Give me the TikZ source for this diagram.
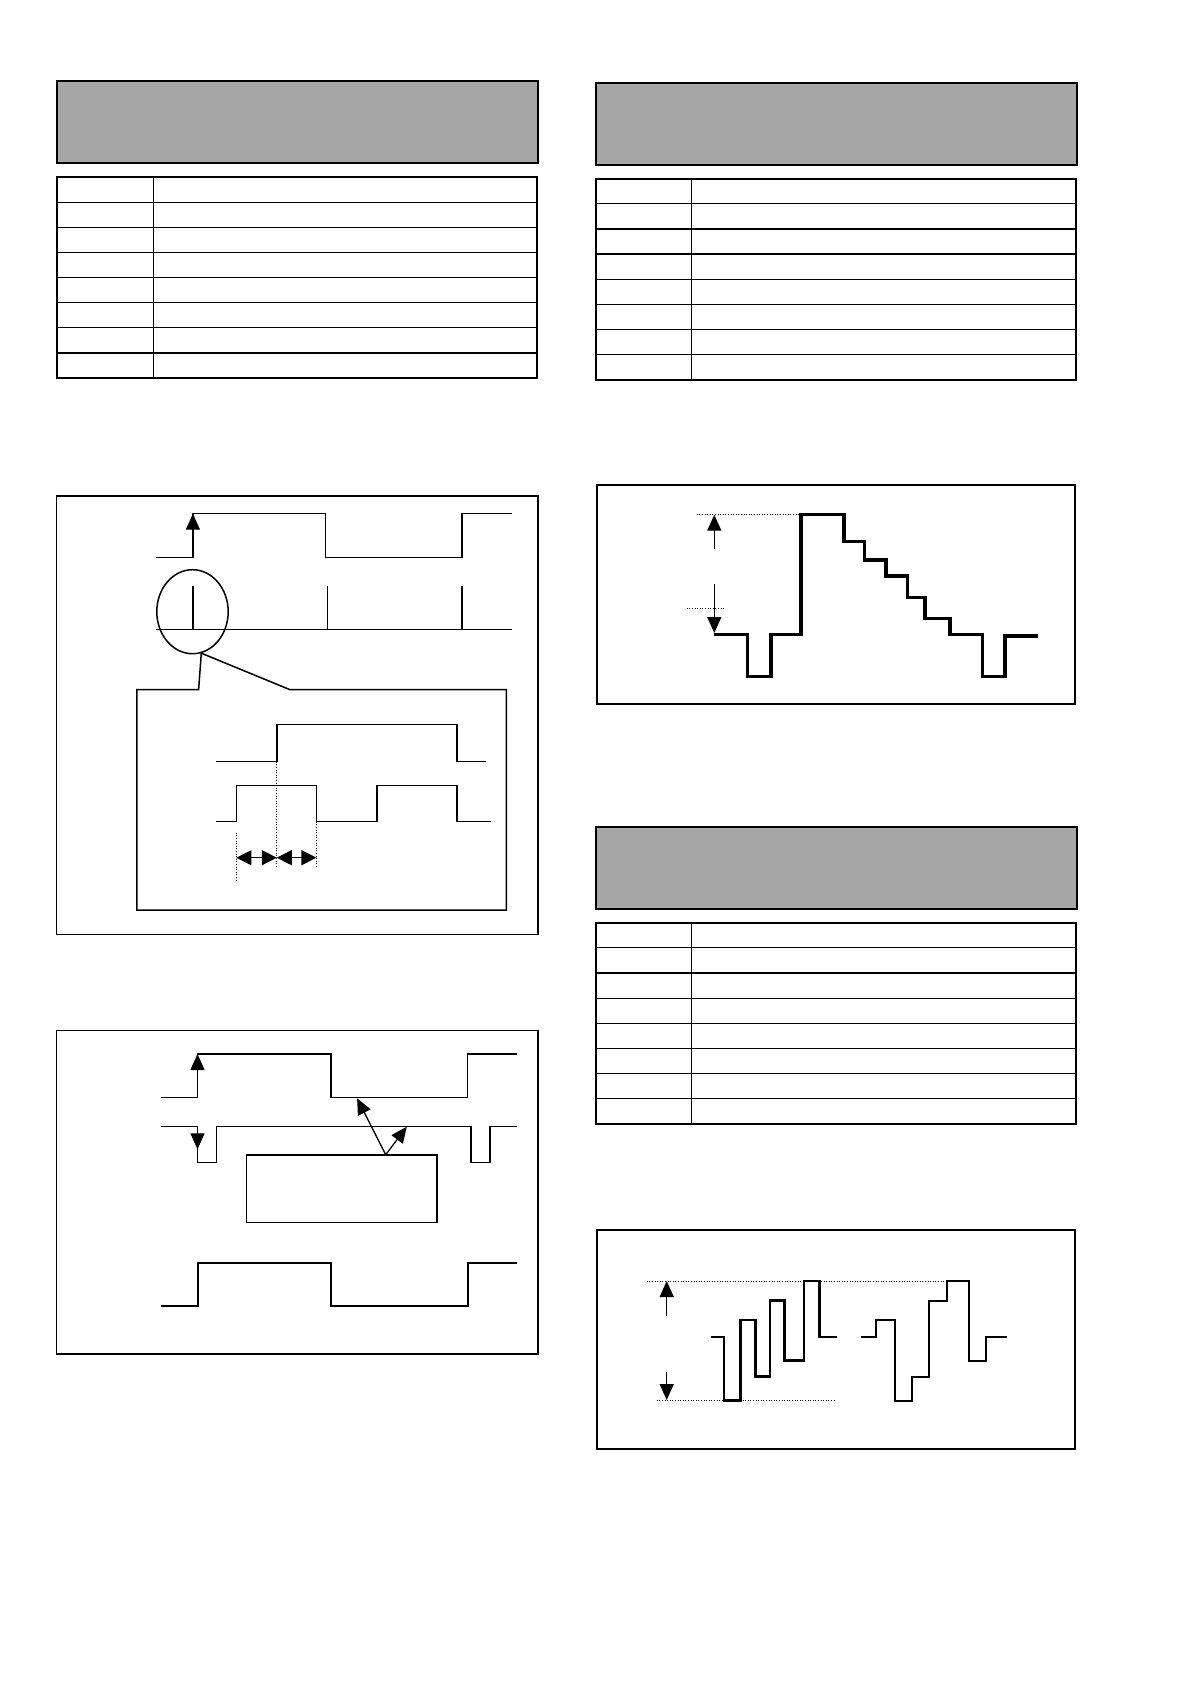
\documentclass[tikz,border=0pt]{standalone}
\usepackage{tikz}
\usetikzlibrary{arrows.meta,shapes.geometric}
\definecolor{hdrgray}{RGB}{166,166,166}

\begin{document}
\begin{tikzpicture}[x=1pt, y=-1pt,
	hdr/.style={fill=hdrgray, draw, line width=2.2pt},
	tbl/.style={draw, line width=2.2pt},
	rule/.style={line width=1.2pt},
	frame/.style={draw, line width=1.6pt},
	wave/.style={line width=1.5pt},
	thickwave/.style={line width=3.2pt},
	dots/.style={line width=0.9pt, dash pattern=on 1pt off 1.6pt},
	head/.style={line width=1.3pt, -{Triangle[length=16pt, width=14pt]}},
	twin/.style={line width=1.3pt, {Triangle[length=15pt, width=15pt]}-{Triangle[length=15pt, width=15pt]}}]
	\useasboundingbox (0,0) rectangle (1190,1684);
	% header bars and signal tables
	\foreach \sx/\sy/\w/\c in {56.8/81/481.4/96.4, 595.7/82.7/481/95.6, 595.7/826.7/481/95.6} {
		\begin{scope}[shift={(\sx,\sy)}]
			\draw[hdr] (0,0) rectangle (\w,82);
			\foreach \k in {1,...,7} \draw[rule] (0,96+25.13*\k) -- (\w-1,96+25.13*\k);
			\draw[rule] (\c,96) -- (\c,297);
			\draw[tbl] (0,96) rectangle (\w-1,297);
		\end{scope}
	}
	% edge timing with zoomed detail
	\draw[frame] (56.4,496) rectangle (538.2,934.3);
	\draw[wave] (156.1,557.3) -- (192.9,557.3) -- (192.9,513.7) -- (325.7,513.7) -- (325.7,557.3) -- (462.1,557.3) -- (462.1,513.7) -- (512.1,513.7);
	\draw[head] (192.9,545) -- (192.9,513.7);
	\draw[wave] (156.1,629.7) -- (512.1,629.7);
	\foreach \t in {192.9,327.5,462.1} \draw[wave] (\t,585.7) -- (\t,629.7);
	\node[ellipse, draw, line width=1.5pt, minimum width=71.4pt, minimum height=84pt, inner sep=0pt] (ring) at (192.5,611.7) {};
	\draw[wave] (ring.-78) -- (198.6,689.7) -- (136.8,689.7) -- (136.8,910) -- (506.4,910) -- (506.4,689.7) -- (290,689.7) -- cycle;
	\draw[wave] (216.1,761.7) -- (276.8,761.7) -- (276.8,724.7) -- (456.8,724.7) -- (456.8,761.7) -- (486.4,761.7);
	\draw[wave] (216.1,821.7) -- (236.4,821.7) -- (236.4,785.3) -- (316.4,785.3) -- (316.4,821.7) -- (376.8,821.7) -- (376.8,785.3) -- (456.8,785.3) -- (456.8,821.7) -- (490.7,821.7);
	\coordinate (t0) at (236.4,857.7); \coordinate (t1) at (276.8,857.7); \coordinate (t2) at (316.4,857.7);
	\draw[dots] (236.4,832.7) -- (236.4,880); \draw[dots] (276.8,761.7) -- (276.8,868.3); \draw[dots] (316.4,821.7) -- (316.4,868.3);
	\draw[twin] (t0) -- (t1); \draw[twin] (t1) -- (t2);
	% staircase
	\draw[frame, line width=2.2pt] (596.7,485.3) rectangle (1075,704.3);
	\draw[dots] (696.7,514.7) -- (801,514.7); \draw[dots] (686.7,608) -- (724,608);
	\draw[thickwave] (714.3,634.7) -- (747.7,634.7) -- (747.7,676.7) -- (771,676.7) -- (771,634.7) -- (801,634.7) -- (801,514.7) -- (844,514.7) -- (844,541.7) -- (864.7,541.7) -- (864.7,560) -- (886,560) -- (886,576) -- (907.7,576) -- (907.7,597.3) -- (925,597.3) -- (925,618.7) -- (950,618.7) -- (950,634.7) -- (982.3,634.7) -- (982.3,676.7) -- (1005,676.7) -- (1005,636) -- (1037.7,636);
	\draw[head] (714.3,549) -- (714.3,514.7); \draw[head] (714.3,584) -- (714.3,633);
	% gated pulses
	\draw[frame] (56.4,1030.3) rectangle (538.2,1354);
	\draw[wave] (161.4,1097.3) -- (197.5,1097.3) -- (197.5,1054) -- (331.1,1054) -- (331.1,1097.3) -- (467.5,1097.3) -- (467.5,1054) -- (517.1,1054);
	\draw[head] (197.5,1080) -- (197.5,1054);
	\draw[wave] (161.4,1126.3) -- (197.5,1126.3) -- (197.5,1162.3) -- (216.4,1162.3) -- (216.4,1126.3) -- (471.1,1126.3) -- (471.1,1162.3) -- (490,1162.3) -- (490,1126.3) -- (517.1,1126.3);
	\draw[head] (197.5,1126.3) -- (197.5,1149.3);
	\node[draw, line width=1.6pt, minimum width=190.7pt, minimum height=67.6pt, inner sep=0pt] (box) at (341.8,1188.5) {};
	\coordinate (fork) at (385.7,1154.7);
	\draw[head] (fork) -- (357.1,1098.3); \draw[head] (fork) -- (406.8,1126.7);
	\draw[wave, line width=2pt] (161.4,1306) -- (197.5,1306) -- (197.5,1263) -- (331.1,1263) -- (331.1,1306) -- (467.5,1306) -- (467.5,1263) -- (517.1,1263);
	% swing
	\draw[frame, line width=2.2pt] (596.7,1229.7) rectangle (1075,1449.3);
	\draw[dots] (646.7,1281) -- (950,1281); \draw[dots] (656.7,1400.7) -- (834.3,1400.7);
	\draw[head] (666.7,1315.7) -- (666.7,1281); \draw[head] (666.7,1372) -- (666.7,1400);
	\draw[line width=2.6pt] (710.7,1337) -- (724,1337) -- (724,1400.7) -- (740.3,1400.7) -- (740.3,1320) -- (755.3,1320) -- (755.3,1376.7) -- (770,1376.7) -- (770,1300.7) -- (784.7,1300.7) -- (784.7,1360.3) -- (804,1360.3) -- (804,1281) -- (819.3,1281) -- (819.3,1337) -- (836.7,1337);
	\draw[line width=2pt] (860.7,1337.3) -- (876,1337.3) -- (876,1320) -- (894.7,1320) -- (894.7,1400.7) -- (912.3,1400.7) -- (912.3,1376.7) -- (929.3,1376.7) -- (929.3,1300.7) -- (946.7,1300.7) -- (946.7,1281) -- (968.7,1281) -- (968.7,1360.7) -- (986,1360.7) -- (986,1337.3) -- (1006.7,1337.3);
\end{tikzpicture}
\end{document}
